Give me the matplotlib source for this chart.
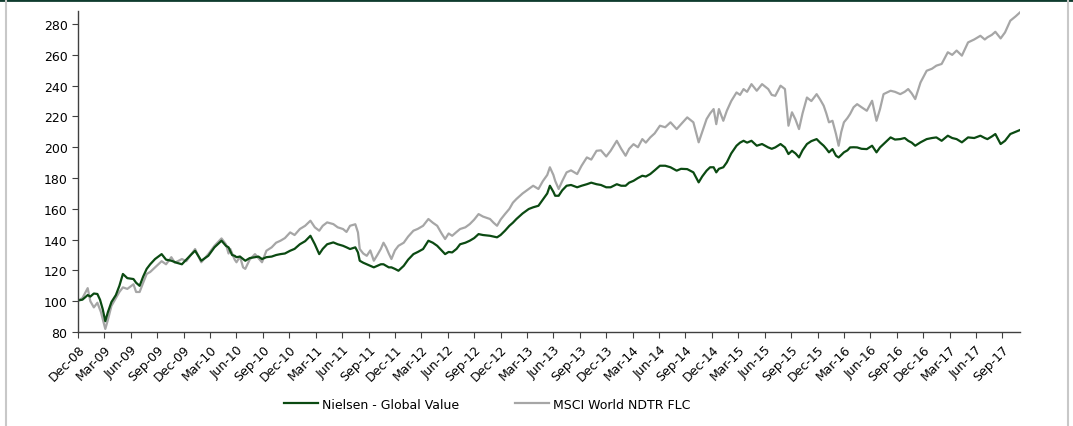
import matplotlib
matplotlib.use("Agg")
from matplotlib import pyplot as plt
from matplotlib.lines import Line2D

# months since Dec-08 (rebased to 100)
msci_m = [0, 0.5, 1.1, 1.4, 1.8, 2.2, 2.6, 3.1, 3.4, 3.8, 4.3, 4.7, 5.1, 5.6, 6.3, 6.6, 7.0, 7.4, 7.8, 8.2,
          8.75, 9.5, 10.0, 10.6, 11.0, 11.8, 12.3, 12.8, 13.3, 14.0, 14.8, 15.5, 16.3, 16.8, 17.1, 17.3, 17.8, 18.0,
          18.4, 18.75, 19.0, 19.5, 20.1, 20.5, 20.9, 21.4, 22.0, 22.5, 23.0, 23.5, 24.1, 24.6, 25.2, 25.8, 26.4,
          26.9, 27.4, 27.8, 28.3, 29.0, 29.5, 30.1, 30.5, 30.9, 31.5, 31.8, 32.0, 32.4, 32.8, 33.2, 33.6, 34.0,
          34.4, 34.7, 35.0, 35.3, 35.6, 36.0, 36.4, 37.0, 37.5, 38.1, 38.6, 39.2, 39.8, 40.3, 40.8, 41.3, 41.7,
          42.1, 42.5, 43.0, 43.4, 44.0, 44.5, 45.0, 45.5, 46.0, 46.8, 47.2, 47.6, 48.0, 48.5, 49.0, 49.4, 49.8,
          50.5, 51.2, 51.7, 52.3, 52.8, 53.3, 53.6, 54.0, 54.2, 54.6, 55.0, 55.5, 56.0, 56.7, 57.2, 57.8, 58.3,
          58.9, 59.4, 60.0, 60.5, 61.2, 61.7, 62.2, 62.6, 63.1, 63.6, 64.1, 64.5, 65.0, 65.5, 66.1, 66.7, 67.3,
          68.0, 68.5, 69.2, 69.9, 70.5, 70.9, 71.4, 71.8, 72.2, 72.5, 72.8, 73.3, 73.7, 74.2, 74.8, 75.2, 75.6,
          76.0, 76.5, 77.1, 77.7, 78.4, 78.8, 79.2, 79.8, 80.3, 80.7, 81.1, 81.5, 81.9, 82.3, 82.8, 83.3, 83.9,
          84.3, 84.7, 85.0, 85.3, 85.7, 86.1, 86.4, 86.7, 87.0, 87.4, 87.7, 88.1, 88.5, 89.0, 89.6, 90.2, 90.7,
          91.1, 91.5, 92.3, 92.8, 93.4, 93.9, 94.3, 94.7, 95.1, 95.7, 96.4, 97.0, 97.5, 98.1, 98.8, 99.3, 99.8,
          100.4, 101.1, 101.8, 102.5, 103.0, 103.3, 103.8, 104.2, 104.8, 105.3, 105.9, 106.5, 107.0]
msci = [100.5, 102, 108.5, 100, 96, 99, 93, 82, 88, 97, 102, 106, 109, 108, 111, 106, 106, 112, 117.7, 119,
        122, 126, 124, 128.6, 125, 127.4, 126, 130, 133.9, 125.3, 130.6, 136, 140.8, 137, 131, 134, 127, 125.3,
        129, 122, 121, 127, 130.6, 128, 125.3, 132.8, 135, 138, 139.3, 141, 144.7, 143, 146.9, 149, 152.3,
        148, 145.8, 149, 151.2, 150.1, 148, 146.9, 145, 149, 150, 144.7, 133.9, 131, 129.5, 133, 126.3, 130,
        134, 138, 135, 131, 127.4, 133, 136, 138, 142, 145.8, 147, 149, 153.4, 151, 149, 144, 140.4,
        144, 142.5, 145, 146.9, 148, 150.1, 153, 156.6, 155, 153.4, 151, 149, 153, 156.6, 160, 164, 166.4,
        170, 172.9, 175, 172.9, 178, 182, 187, 182, 178.2, 172.9, 178, 183.7, 185, 182.6, 188, 193.4, 192,
        197.7, 198, 194, 197.7, 204.2, 199, 194.5, 199, 202, 200, 205.3, 203, 206.4, 209, 214, 213, 216.2,
        211.8, 215, 219.4, 216.2, 203.2, 210, 218.3, 222, 224.8, 215, 224.8, 217.2, 223.7, 230, 235.6, 234, 237.8,
        236, 241, 236.7, 241, 237.8, 234, 233.4, 240, 237.8, 214, 222.7, 218, 211.8, 222, 232.3, 230, 234.5,
        231, 227, 222, 216.2, 217.2, 208.6, 201, 210, 216.2, 219, 221.6, 226, 228, 226, 223.7, 230.2, 217.2,
        224.8, 234.5, 236.7, 236, 234.5, 236, 237.8, 235, 231.3, 242.1, 249.7, 251, 253, 254.1, 261.7, 260, 262.8,
        259.5, 268.1, 270, 272.4, 270, 271.4, 273, 275, 270.7, 274.6, 282.2, 285, 287.6]

nielsen_m = [0, 0.5, 1.1, 1.4, 1.8, 2.2, 2.5, 2.8, 3.1, 3.4, 3.8, 4.3, 4.7, 5.1, 5.6, 6.3, 6.6, 7.0, 7.4, 7.8,
             8.2, 8.75, 9.5, 10.0, 10.6, 11.2, 11.8, 12.3, 12.8, 13.3, 14.0, 14.8, 15.5, 16.3, 16.8, 17.1, 17.5,
             17.8, 18.0, 18.4, 19.0, 19.5, 20.1, 20.5, 20.9, 21.4, 22.0, 22.5, 23.0, 23.5, 24.1, 24.6, 25.2, 25.8,
             26.4, 26.9, 27.4, 27.8, 28.3, 29.0, 29.5, 30.1, 30.5, 30.9, 31.5, 31.8, 32.0, 32.4, 32.8, 33.2, 33.6,
             34.0, 34.4, 34.7, 35.0, 35.3, 35.6, 36.0, 36.4, 37.0, 37.5, 38.1, 38.6, 39.2, 39.8, 40.3, 40.8, 41.3,
             41.7, 42.1, 42.5, 43.0, 43.4, 44.0, 44.5, 45.0, 45.5, 46.0, 46.8, 47.2, 47.6, 48.0, 48.5, 49.0, 49.4,
             49.8, 50.5, 51.2, 51.7, 52.3, 52.8, 53.3, 53.6, 54.0, 54.2, 54.6, 55.0, 55.5, 56.0, 56.7, 57.2, 57.8,
             58.3, 58.9, 59.4, 60.0, 60.5, 61.2, 61.7, 62.2, 62.6, 63.1, 63.6, 64.1, 64.5, 65.0, 65.5, 66.1, 66.7,
             67.3, 68.0, 68.5, 69.2, 69.9, 70.5, 70.9, 71.4, 71.8, 72.2, 72.5, 72.8, 73.3, 73.7, 74.2, 74.8, 75.2,
             75.6, 76.0, 76.5, 77.1, 77.7, 78.4, 78.8, 79.2, 79.8, 80.3, 80.7, 81.1, 81.5, 81.9, 82.3, 82.8, 83.3,
             83.9, 84.3, 84.7, 85.0, 85.3, 85.7, 86.1, 86.4, 86.7, 87.0, 87.4, 87.7, 88.1, 88.5, 89.0, 89.6, 90.2,
             90.7, 91.1, 91.5, 92.3, 92.8, 93.4, 93.9, 94.3, 94.7, 95.1, 95.7, 96.4, 97.0, 97.5, 98.1, 98.8, 99.3,
             99.8, 100.4, 101.1, 101.8, 102.5, 103.0, 103.3, 103.8, 104.2, 104.8, 105.3, 105.9, 106.5, 107.0]
nielsen = [100.5, 101, 104, 103, 105, 104.7, 101, 95, 87, 93, 99.5, 104, 110, 117.7, 115, 114.4, 112, 110, 116, 121,
           124, 127.4, 130.6, 127, 126.3, 125, 124, 127, 130, 132.8, 126.3, 129.5, 135, 139.3, 136, 135, 130,
           129.5, 128.6, 129, 126.3, 128, 128.6, 129, 127.4, 128.6, 129, 130, 130.6, 131, 132.8, 134, 137, 139,
           142.5, 137, 130.6, 134, 137, 138.2, 137, 136, 135, 133.9, 135, 131.7, 126.3, 125, 124, 123, 122,
           123, 124, 124, 123, 122, 122, 121, 119.8, 123, 127, 130.6, 132, 133.9, 139.3, 138, 136, 133,
           130.6, 132, 131.7, 134, 137, 138, 139.3, 141, 143.6, 143, 142.5, 142, 141.5, 143, 145.8, 149, 151,
           153.4, 157, 159.9, 161, 162, 166, 170, 175, 171, 168.5, 168.5, 172, 175, 175.5, 174, 175, 176,
           177, 176, 175.5, 174, 174, 176, 175, 175, 177, 178.2, 180, 181.5, 181, 182.6, 185, 188, 188,
           187, 184.8, 186, 185.8, 183.7, 177.2, 181, 184.8, 187, 187, 183.7, 186, 187, 190.2, 196, 201, 203,
           204.2, 203, 204.2, 201, 202.1, 199.9, 199, 199.9, 202.1, 199.9, 195.6, 197.7, 196, 193.4, 198, 202.1, 204,
           205.3, 203, 201, 199, 196.7, 198.8, 194.5, 193.4, 195, 196.7, 198, 199.9, 200, 199.9, 199, 198.8, 201,
           196.7, 199.9, 202.1, 206.4, 205, 205.3, 206, 204.2, 203, 201, 203.2, 205.3, 206, 206.4, 204.2, 207.5, 206,
           205.3, 203.2, 206.4, 206, 207.5, 206, 205.3, 207, 208.6, 202.1, 204.2, 208.6, 210, 211.2]

month_names = ["Jan", "Feb", "Mar", "Apr", "May", "Jun", "Jul", "Aug", "Sep", "Oct", "Nov", "Dec"]
tick_pos = list(range(0, 106, 3))
tick_labels = []
for p in tick_pos:
    k = 11 + p  # Dec-2008 is month 11 of 2008
    tick_labels.append("%s-%02d" % (month_names[k % 12], 8 + k // 12))
y_ticks = list(range(80, 281, 20))

plt.rcParams['font.family'] = 'DejaVu Sans'
plt.rcParams['font.size'] = 9

fig = plt.figure(figsize=(10.73, 4.27), dpi=100)
ax = fig.add_axes([0.0727, 0.2201, 0.8779, 0.7518])

ax.plot(msci_m, msci, color='#a6a6a6', lw=1.6, label='MSCI World NDTR FLC')
ax.plot(nielsen_m, nielsen, color='#0b4a12', lw=1.6, label='Nielsen - Global Value')

ax.set_xlim(0, 107)
ax.set_ylim(80, 288.5)
ax.set_xticks(tick_pos)
ax.set_xticklabels(tick_labels, rotation=45, ha='right', rotation_mode='anchor')
ax.set_yticks(y_ticks)

for s in ['top', 'right']:
    ax.spines[s].set_visible(False)
for s in ['left', 'bottom']:
    ax.spines[s].set_color('#404040')
    ax.spines[s].set_linewidth(1.0)
ax.tick_params(axis='both', direction='out', length=4, color='#404040', labelcolor='black')

h, l = ax.get_legend_handles_labels()
fig.legend(h[::-1], l[::-1], loc='center', bbox_to_anchor=(0.454, 0.0515), ncol=2, frameon=False,
           handlelength=2.7, handletextpad=0.3, columnspacing=4.5, fontsize=9)

# page frame bits
fig.add_artist(Line2D([0, 1], [0.997, 0.997], transform=fig.transFigure, color='#0e3b2e', lw=2))
fig.add_artist(Line2D([0.0056, 0.0056], [0, 0.995], transform=fig.transFigure, color='#c8c8c8', lw=1.5))
fig.add_artist(Line2D([0.9953, 0.9953], [0, 0.995], transform=fig.transFigure, color='#c8c8c8', lw=1.5))

fig.savefig('out.png', dpi=100)
